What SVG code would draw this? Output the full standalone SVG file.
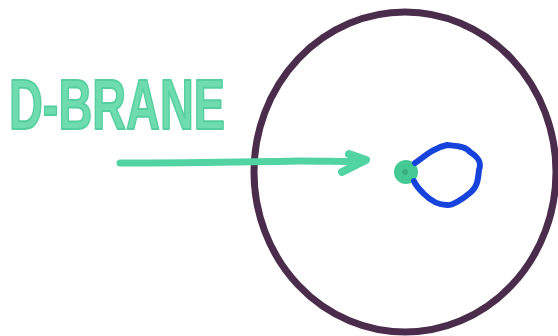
<svg xmlns="http://www.w3.org/2000/svg" width="558" height="336" viewBox="0 0 558 336">
<style>
.marker{fill:none;stroke-linecap:round;stroke-linejoin:round}
.green{stroke:#52d3a2}
.label{font-family:"Liberation Sans","DejaVu Sans",sans-serif;font-weight:bold;fill:#6fdcb0;stroke:#55cf9d;stroke-width:2;stroke-linejoin:round}
</style>
<rect width="558" height="336" fill="#ffffff"/>
<g id="space">
<ellipse cx="405" cy="172" rx="151" ry="160" fill="none" stroke="#4b2c4c" stroke-width="7"/>
</g>
<g id="label">
<text class="label" x="9" y="129" font-size="70" textLength="216" lengthAdjust="spacingAndGlyphs">D-BRANE</text>
</g>
<g id="dbrane">
<circle cx="406" cy="172" r="12" fill="#44c994"/>
<circle cx="405" cy="172" r="3" fill="#3aae80"/>
</g>
<g id="string">
<path class="marker" d="M415 163 C425 156 433 148 447 145 C456 146 466 146 470 152 C478 157 482 162 479 170 C478 178 478 186 471 192 C462 200 451 206 447 205 C438 205 430 200 424 194 C418 188 415 184 414 181" stroke="#1743dd" stroke-width="6"/>
</g>
<g id="connectors">
<path class="marker green" d="M120 163 C180 163 250 162 300 161 C330 161 350 162 364 161" stroke-width="7"/>
<path class="marker green" d="M349 154 L366 160 L342 172" stroke-width="8"/>
</g>
</svg>
